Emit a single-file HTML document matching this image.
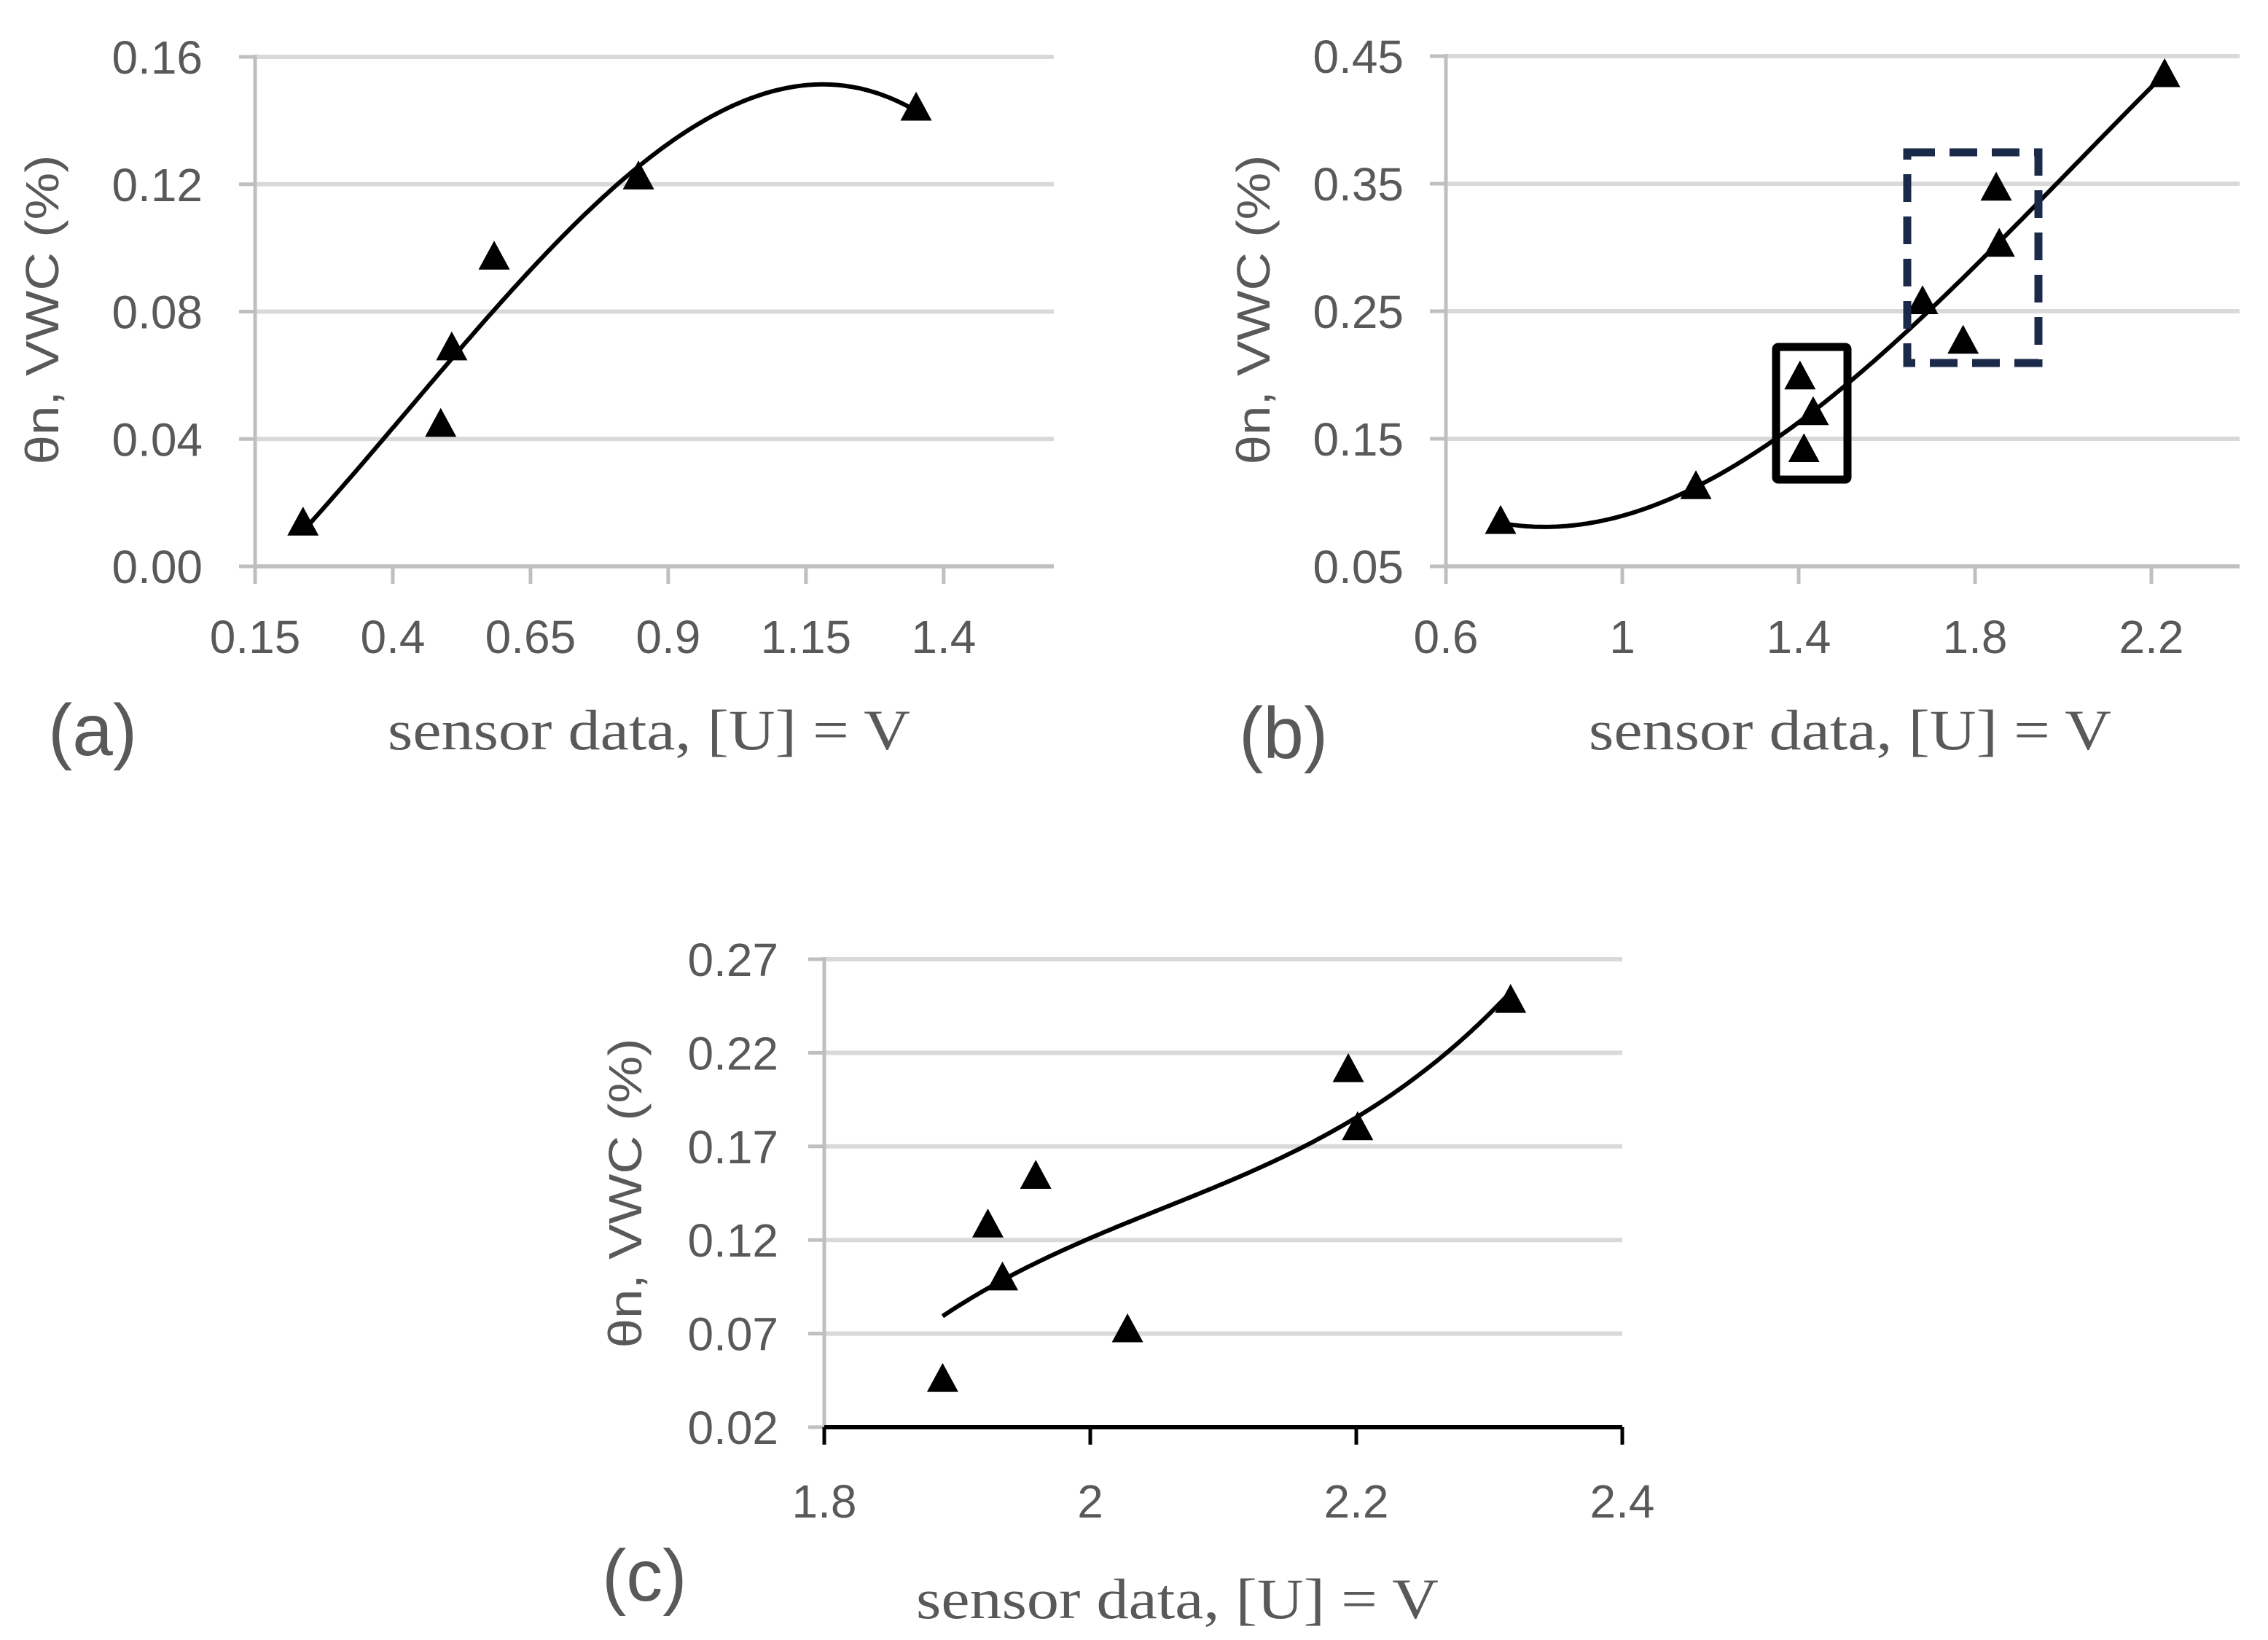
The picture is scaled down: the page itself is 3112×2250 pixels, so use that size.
<!DOCTYPE html>
<html><head><meta charset="utf-8"><style>
html,body{margin:0;padding:0;background:#fff;}
svg{display:block;}
</style></head><body>
<svg id="fig" width="3112" height="2250" viewBox="0 0 3112 2250" xmlns="http://www.w3.org/2000/svg"></svg>
<script>
// Chart (a) data
const aX = [0.237, 0.487, 0.507, 0.584, 0.846, 1.35];
const aY = [0.013, 0.044, 0.068, 0.0965, 0.1217, 0.1433];
const aXTicks = [0.15, 0.4, 0.65, 0.9, 1.15, 1.4];
const aXTickLabels = ["0.15", "0.4", "0.65", "0.9", "1.15", "1.4"];
const aYTicks = [0, 0.04, 0.08, 0.12, 0.16];
const aYTickLabels = ["0.00", "0.04", "0.08", "0.12", "0.16"];
// Chart (b) data
const bX = [0.724, 1.167, 1.403, 1.433, 1.412, 1.681, 1.773, 1.848, 1.855, 2.23];
const bY = [0.0837, 0.111, 0.197, 0.169, 0.140, 0.256, 0.225, 0.345, 0.301, 0.434];
const bXTicks = [0.6, 1, 1.4, 1.8, 2.2];
const bXTickLabels = ["0.6", "1", "1.4", "1.8", "2.2"];
const bYTicks = [0.05, 0.15, 0.25, 0.35, 0.45];
const bYTickLabels = ["0.05", "0.15", "0.25", "0.35", "0.45"];
// Chart (c) data
const cX = [1.889, 1.923, 1.934, 1.959, 2.028, 2.194, 2.201, 2.316];
const cY = [0.0445, 0.127, 0.0987, 0.153, 0.071, 0.210, 0.179, 0.247];
const cXTicks = [1.8, 2, 2.2, 2.4];
const cXTickLabels = ["1.8", "2", "2.2", "2.4"];
const cYTicks = [0.02, 0.07, 0.12, 0.17, 0.22, 0.27];
const cYTickLabels = ["0.02", "0.07", "0.12", "0.17", "0.22", "0.27"];

const NS = "http://www.w3.org/2000/svg";
const svg = document.getElementById("fig");
function mk(tag, attrs, parent) {
  const e = document.createElementNS(NS, tag);
  for (const k in attrs) e.setAttribute(k, attrs[k]);
  (parent || svg).appendChild(e);
  return e;
}
function polyfit(xs, ys, deg) {
  const n = deg + 1;
  const A = [], b = [];
  for (let i = 0; i < n; i++) {
    A.push(new Array(n).fill(0)); b.push(0);
    for (let j = 0; j < n; j++) for (let k = 0; k < xs.length; k++) A[i][j] += Math.pow(xs[k], i + j);
    for (let k = 0; k < xs.length; k++) b[i] += ys[k] * Math.pow(xs[k], i);
  }
  for (let i = 0; i < n; i++) {
    let p = i;
    for (let r = i + 1; r < n; r++) if (Math.abs(A[r][i]) > Math.abs(A[p][i])) p = r;
    [A[i], A[p]] = [A[p], A[i]]; [b[i], b[p]] = [b[p], b[i]];
    for (let r = i + 1; r < n; r++) {
      const f = A[r][i] / A[i][i];
      for (let c = i; c < n; c++) A[r][c] -= f * A[i][c];
      b[r] -= f * b[i];
    }
  }
  const co = new Array(n).fill(0);
  for (let i = n - 1; i >= 0; i--) {
    let s = b[i];
    for (let c = i + 1; c < n; c++) s -= A[i][c] * co[c];
    co[i] = s / A[i][i];
  }
  return co;
}
function chart(cfg) {
  const g = mk("g", {});
  
  
  const sx = v => cfg.x0 + (v - cfg.xmin) / (cfg.xmax - cfg.xmin) * (cfg.x1 - cfg.x0);
  const sy = v => cfg.y0 + (v - cfg.ymin) / (cfg.ymax - cfg.ymin) * (cfg.y1 - cfg.y0);
  cfg.yTicks.forEach((t, i) => {
    const y = sy(t);
    if (!(cfg.blackX && i === 0)) {
      const gl = mk("line", {x1: cfg.x0, x2: cfg.x1, y1: y, y2: y, stroke: "#d9d9d9", "stroke-width": 6}, g);
      
      
    }
    const st = mk("line", {x1: cfg.x0 - 22, x2: cfg.x0, y1: y, y2: y, stroke: "#bfbfbf", "stroke-width": 5}, g);
    
    
    const tl = mk("text", {x: cfg.ylabX, y: y + 23, "text-anchor": "end", "font-family": "Liberation Sans, sans-serif", "font-size": 64, fill: "#595959"}, g);
    tl.textContent = cfg.yTickLabels[i];
    
    
  });
  const ya = mk("line", {x1: cfg.x0, x2: cfg.x0, y1: cfg.y1 - 3, y2: cfg.y0, stroke: "#bfbfbf", "stroke-width": 5}, g);
  
  
  const xc = cfg.blackX ? "#000" : "#bfbfbf";
  const xa = mk("line", {x1: cfg.x0 - (cfg.blackX ? 0 : 22), x2: cfg.x1, y1: cfg.y0, y2: cfg.y0, stroke: xc, "stroke-width": cfg.blackX ? 6 : 5}, g);
  
  
  cfg.xTicks.forEach((t, i) => {
    const x = sx(t);
    const tk = mk("line", {x1: x, x2: x, y1: cfg.y0, y2: cfg.y0 + 24, stroke: xc, "stroke-width": 5}, g);
    
    
    const tl = mk("text", {x: x, y: cfg.xlabY, "text-anchor": "middle", "font-family": "Liberation Sans, sans-serif", "font-size": 64, fill: "#595959"}, g);
    tl.textContent = cfg.xTickLabels[i];
    
    
  });
  const co = polyfit(cfg.xs, cfg.ys, 3);
  const lo = Math.min(...cfg.xs), hi = Math.max(...cfg.xs);
  let d = "";
  for (let i = 0; i <= 200; i++) {
    const v = lo + (hi - lo) * i / 200;
    const yv = co[0] + co[1] * v + co[2] * v * v + co[3] * v * v * v;
    d += (i ? "L" : "M") + sx(v).toFixed(1) + "," + sy(yv).toFixed(1);
  }
  const tr = mk("path", {d: d, fill: "none", stroke: "#000", "stroke-width": 6}, g);
  
  
  cfg.xs.forEach((v, i) => {
    const cx = sx(v), cy = sy(cfg.ys[i]);
    const m = mk("polygon", {points: `${cx},${cy - 22} ${cx - 19},${cy + 13} ${cx + 19},${cy + 13}`, fill: "#000", stroke: "#000", "stroke-width": 3}, g);
    
    
  });
  const xt = mk("text", {x: cfg.titleX, y: cfg.titleY, "font-family": "Liberation Serif, serif", "font-size": 78, fill: "#595959", textLength: 717, lengthAdjust: "spacingAndGlyphs"}, g);
  xt.textContent = "sensor data, [U] = V";
  
  
  const yt = mk("text", {x: 0, y: 0, "text-anchor": "middle", "font-family": "Liberation Sans, sans-serif", "font-size": 64, fill: "#595959", textLength: 425, lengthAdjust: "spacingAndGlyphs", transform: `translate(${cfg.ytX},${cfg.ytY}) rotate(-90)`}, g);
  yt.textContent = "θn, VWC (%)";
  
  
  const pl = mk("text", {x: cfg.plX, y: cfg.plY, "font-family": "Liberation Sans, sans-serif", "font-size": 100, fill: "#595959"}, g);
  pl.textContent = cfg.panel;
  
  
  return {sx, sy, g};
}
chart({name: "chart-a", xs: aX, ys: aY, xTicks: aXTicks, xTickLabels: aXTickLabels, yTicks: aYTicks, yTickLabels: aYTickLabels,
  xmin: 0.15, xmax: 1.6, ymin: 0, ymax: 0.16, x0: 350, x1: 1446, y0: 777, y1: 78,
  ylabX: 278, xlabY: 896, titleX: 532, titleY: 1028, ytX: 80, ytY: 425, plX: 66, plY: 1036, panel: "(a)"});
chart({name: "chart-b", xs: bX, ys: bY, xTicks: bXTicks, xTickLabels: bXTickLabels, yTicks: bYTicks, yTickLabels: bYTickLabels,
  xmin: 0.6, xmax: 2.4, ymin: 0.05, ymax: 0.45, x0: 1984, x1: 3073, y0: 777, y1: 77,
  ylabX: 1926, xlabY: 896, titleX: 2180, titleY: 1028, ytX: 1742, ytY: 425, plX: 1700, plY: 1040, panel: "(b)"});
chart({name: "chart-c", xs: cX, ys: cY, xTicks: cXTicks, xTickLabels: cXTickLabels, yTicks: cYTicks, yTickLabels: cYTickLabels,
  xmin: 1.8, xmax: 2.4, ymin: 0.02, ymax: 0.27, x0: 1131, x1: 2226, y0: 1958, y1: 1316,
  ylabX: 1068, xlabY: 2082, titleX: 1257, titleY: 2220, ytX: 880, ytY: 1637, plX: 826, plY: 2196, panel: "(c)", blackX: true});
const box1 = mk("rect", {x: 2437, y: 476, width: 98, height: 182, fill: "none", stroke: "#000", "stroke-width": 11, rx: 3});


const box2 = mk("rect", {x: 2617, y: 209, width: 180, height: 289, fill: "none", stroke: "#1c2a4a", "stroke-width": 11, "stroke-dasharray": "38 20"});


</script>
</body></html>
